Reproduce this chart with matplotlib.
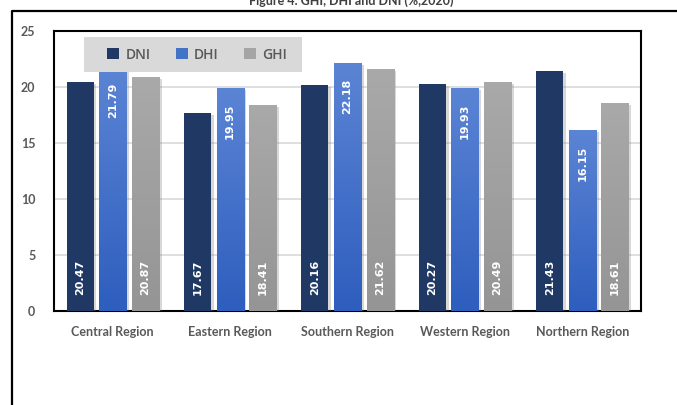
import numpy as np
import matplotlib
matplotlib.use("Agg")
import matplotlib.pyplot as plt
from matplotlib.patches import Patch, Rectangle
from matplotlib.lines import Line2D
from matplotlib.colors import LinearSegmentedColormap
import matplotlib.patheffects as pe

# ---- data ----
regions = ["Central Region", "Eastern Region", "Southern Region", "Western Region", "Northern Region"]
series_names = ["DNI", "DHI", "GHI"]
dni = [20.47, 17.67, 20.16, 20.27, 21.43]
dhi = [21.79, 19.95, 22.18, 19.93, 16.15]
ghi = [20.87, 18.41, 21.62, 20.49, 18.61]
yticks = [0, 5, 10, 15, 20, 25]
title = "Figure 4. GHI, DHI and DNI (%,2020)"

W, H = 677, 405
fig = plt.figure(figsize=(W / 100, H / 100), dpi=100)
ax = fig.add_axes([54 / W, 1 - 311 / H, (641 - 54) / W, (311 - 31) / H])

x = np.arange(len(regions))
bw = 0.23
off = 0.278

shadow = [pe.SimplePatchShadow(offset=(2, -1.5), shadow_rgbFace="#808080", alpha=0.3), pe.Normal()]

b_dni = ax.bar(x - off, dni, bw, color="#1F3864", zorder=3, path_effects=shadow)
b_dhi = ax.bar(x, dhi, bw, color="#4472C4", zorder=3, path_effects=shadow)
b_ghi = ax.bar(x + off, ghi, bw, color="#A0A0A0", zorder=3, path_effects=shadow)

ax.set_xlim(-0.5, len(regions) - 0.5)
ax.set_ylim(0, 25)

def gradient(container, top, bottom):
    cmap = LinearSegmentedColormap.from_list("g", [bottom, top])
    grad = np.linspace(0, 1, 64).reshape(-1, 1)
    for r in container:
        x0, y0 = r.get_x(), r.get_y()
        im = ax.imshow(grad, extent=[x0, x0 + r.get_width(), y0, y0 + r.get_height()],
                       origin="lower", aspect="auto", cmap=cmap, zorder=3.1, interpolation="bilinear")
        im.set_clip_path(r)

gradient(b_dhi, "#5B84D4", "#2E5EBE")
gradient(b_ghi, "#A9A9A9", "#959595")
ax.set_xlim(-0.5, len(regions) - 0.5)
ax.set_ylim(0, 25)

lab_kw = dict(rotation=90, color="white", fontsize=8, fontweight="bold",
              family="DejaVu Sans", ha="center", textcoords="offset points", zorder=4)
for cont, vals in ((b_dni, dni), (b_ghi, ghi)):
    for r, v in zip(cont, vals):
        ax.annotate(f"{v:.2f}", (r.get_x() + r.get_width() / 2, 0), xytext=(0, 11.5),
                    va="bottom", **lab_kw)
for r, v in zip(b_dhi, dhi):
    ax.annotate(f"{v:.2f}", (r.get_x() + r.get_width() / 2, v), xytext=(0, -11.5),
                va="top", **lab_kw)

# axes styling
ax.set_yticks(yticks)
ax.set_xticks(x)
ax.set_xticklabels(regions, fontsize=9, fontweight="bold", color="#595959", family=["Lato", "DejaVu Sans"])
ax.set_yticklabels([str(t) for t in yticks], fontsize=9, fontweight="bold", color="#595959",
                   family=["Lato", "DejaVu Sans"])
ax.tick_params(axis="both", length=0)
ax.tick_params(axis="y", pad=13.5)
ax.tick_params(axis="x", pad=11)
ax.yaxis.grid(True, color="#D9D9D9", lw=1.2)
ax.set_axisbelow(True)
for s in ax.spines.values():
    s.set_color("black")
    s.set_linewidth(1.5)

# legend
ax.add_patch(Rectangle((30 / 587, (311 - 72) / 280), (302 - 84) / 587, 35 / 280,
                       transform=ax.transAxes, facecolor="#D9D9D9", edgecolor="none", zorder=5))
handles = [Patch(facecolor=c, edgecolor="none") for c in ("#1F3864", "#4472C4", "#A5A5A5")]
leg = ax.legend(handles, series_names, ncol=3, loc="center",
                bbox_to_anchor=((197 - 54) / 587, (311 - 54.5) / 280), frameon=False,
                handlelength=0.87, handleheight=0.85, handletextpad=0.45, columnspacing=1.8,
                prop={"family": ["Open Sans", "DejaVu Sans"], "size": 10, "weight": "semibold"})
for t in leg.get_texts():
    t.set_color("#595959")
leg.set_zorder(6)

# outer frame
fig.add_artist(Line2D([12 / W, 12 / W, 1.0], [0.0, 1 - 11 / H, 1 - 11 / H],
                      transform=fig.transFigure, color="black", lw=1.6))

fig.text(351 / W, 1 - 5 / H, title, ha="center", va="baseline", fontsize=9, fontweight="bold",
         color="#404040", family=["Lato", "DejaVu Sans"])

fig.savefig("out.png", dpi=100)
